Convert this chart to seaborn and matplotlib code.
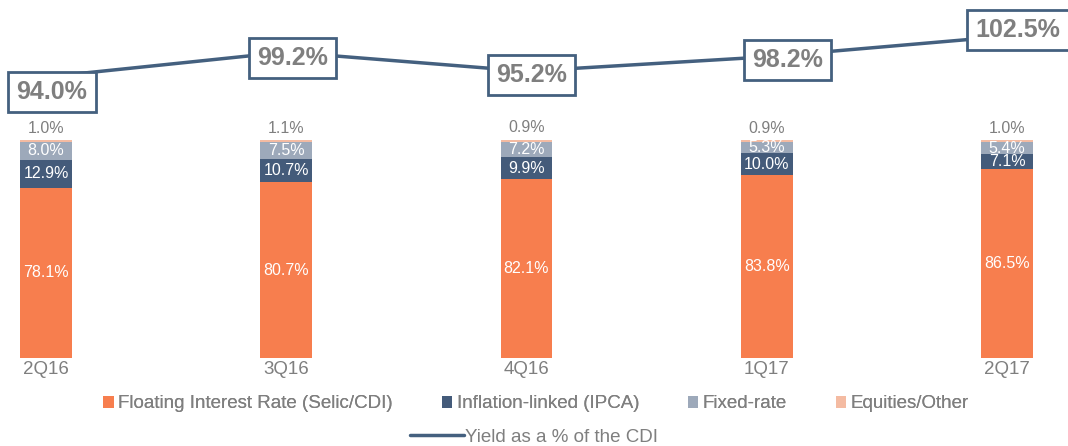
import numpy as np
import pandas as pd
import seaborn as sns
import matplotlib.pyplot as plt
from matplotlib.patches import Patch
from matplotlib.lines import Line2D

# --- Data ---
quarters = ['2Q16', '3Q16', '4Q16', '1Q17', '2Q17']
floating = [78.1, 80.7, 82.1, 83.8, 86.5]
inflation = [12.9, 10.7, 9.9, 10.0, 7.1]
fixed = [8.0, 7.5, 7.2, 5.3, 5.4]
equities = [1.0, 1.1, 0.9, 0.9, 1.0]
yield_cdi = [94.0, 99.2, 95.2, 98.2, 102.5]

series_names = ['Floating Interest Rate (Selic/CDI)', 'Inflation-linked (IPCA)',
                'Fixed-rate', 'Equities/Other']
colors = ['#F77E4E', '#445B7A', '#9DA9BA', '#F4BBA2']
line_color = '#44607F'
gray = '#7F7F7F'

sns.set_theme(style='white')
plt.rcParams['font.family'] = ['Liberation Sans', 'DejaVu Sans']

fig = plt.figure(figsize=(10.68, 4.46), dpi=100)
ax = fig.add_axes([0, 88 / 446, 1, 358 / 446])

layers = [floating, inflation, fixed, equities]
bottom = np.zeros(len(quarters))
for vals, col, name in zip(layers, colors, series_names):
    sns.barplot(x=quarters, y=vals, bottom=bottom, color=col, width=0.216,
                ax=ax, label=name, saturation=1, linewidth=0)
    bottom = bottom + np.array(vals)

# segment labels
bottom = np.zeros(len(quarters))
for li, vals in enumerate(layers):
    for i, v in enumerate(vals):
        if li < 3:
            ax.text(i, bottom[i] + v / 2, f'{v:.1f}%', ha='center', va='center',
                    color='white', fontsize=11.5)
        else:
            ax.text(i, bottom[i] + v + 2.0, f'{v:.1f}%', ha='center', va='bottom',
                    color=gray, fontsize=11.5)
    bottom = bottom + np.array(vals)

ax.set_xlim(-0.1915, 4.254)
ax.set_ylim(0, 164.2)
ax.set_yticks([])
ax.set_ylabel('')
ax.tick_params(axis='x', length=0, pad=2, labelsize=13.5, labelcolor=gray)
for s in ax.spines.values():
    s.set_visible(False)
if ax.get_legend():
    ax.get_legend().remove()

# yield line on twin axis
ax2 = ax.twinx()
sns.lineplot(x=np.arange(len(quarters)), y=yield_cdi, ax=ax2, color=line_color,
             linewidth=2.5, legend=False)
ax2.set_ylim(35.46, 110.04)
ax2.set_yticks([])
for s in ax2.spines.values():
    s.set_visible(False)

offsets = [(6, -15), (6, -6), (5, -4), (21, -3), (11, 6)]
for i, (v, off) in enumerate(zip(yield_cdi, offsets)):
    ax2.annotate(f'{v:.1f}%', (i, v), xytext=off, textcoords='offset pixels',
                 ha='center', va='center', fontsize=18, fontweight='bold', color=gray,
                 bbox=dict(boxstyle='square,pad=0.33', fc='white', ec=line_color, lw=2))

# legends
bar_handles = [Patch(facecolor=c, edgecolor='none') for c in colors]
leg1 = fig.legend(bar_handles, series_names, loc='center', bbox_to_anchor=(0.502, 42 / 446),
                  ncol=4, frameon=False, fontsize=13.5, handlelength=0.55, handleheight=0.55,
                  handletextpad=0.25, columnspacing=2.6, labelcolor=gray)
fig.add_artist(leg1)
fig.legend([Line2D([0], [0], color=line_color, lw=2.5)], ['Yield as a % of the CDI'],
           loc='center', bbox_to_anchor=(0.5, 9 / 446), frameon=False, fontsize=13.5,
           handlelength=2.9, handletextpad=0.05, labelcolor=gray)

fig.savefig('out.png', dpi=100)
